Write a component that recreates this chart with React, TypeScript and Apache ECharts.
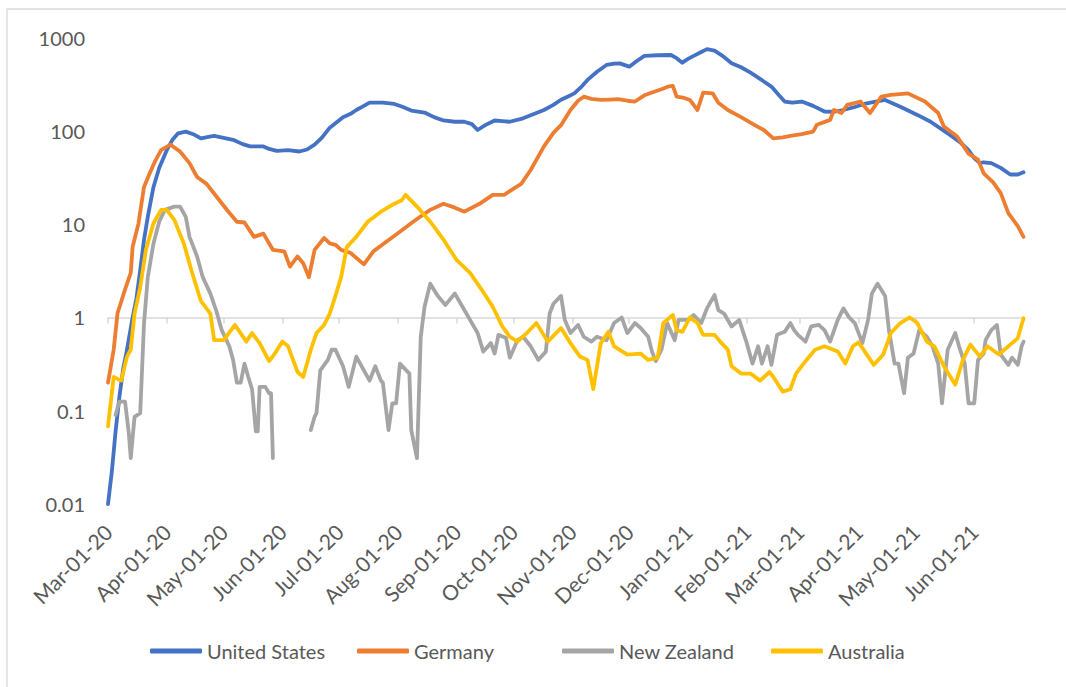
import React, { useEffect, useRef } from "react";
import * as echarts from "echarts";

// Day offsets from 2020-03-01, and values (log scale)
const unitedStates: [number, number][] = [
  [0, 0.01], [2, 0.022], [4, 0.06], [6, 0.14], [8, 0.28], [10, 0.45], [13, 1.0], [15, 1.6], [17, 3.2], [19, 6.8],
  [21, 12], [24, 25], [27, 40], [31, 62], [34, 80], [37, 94], [41, 98], [45, 92], [49, 83], [53, 86], [56, 88],
  [61, 84], [66, 80], [71, 72], [75, 68], [82, 68], [85, 64], [89, 61], [95, 62], [101, 60], [105, 63], [109, 71],
  [113, 85], [117, 108], [121, 125], [124, 140], [128, 152], [131, 167], [135, 185], [138, 200], [145, 200],
  [151, 194], [155, 182], [160, 165], [167, 157], [172, 140], [177, 129], [183, 125], [188, 125], [192, 118],
  [195, 102], [199, 115], [204, 129], [208, 127], [212, 125], [219, 136], [225, 152], [230, 167], [235, 190],
  [239, 215], [243, 235], [246, 252], [250, 300], [253, 351], [258, 430], [263, 508], [267, 525], [270, 528],
  [275, 487], [279, 560], [283, 635], [290, 645], [297, 649], [300, 600], [303, 537], [306, 590], [309, 635],
  [313, 700], [316, 750], [320, 724], [324, 640], [329, 531], [334, 480], [339, 421], [344, 360], [350, 298],
  [354, 240], [357, 206], [361, 200], [366, 206], [372, 185], [378, 161], [383, 160], [388, 167], [394, 180],
  [399, 194], [405, 205], [410, 214], [418, 181], [427, 148], [434, 125], [443, 94], [450, 74], [454, 62],
  [457, 51], [460, 45], [462, 46], [466, 45], [471, 40], [476, 34], [480, 34], [483, 36],
];

const germany: [number, number][] = [
  [0, 0.2], [3, 0.45], [5, 1.1], [9, 2.0], [12, 3.0], [13, 5.7], [16, 10], [19, 25], [22, 35], [25, 48], [28, 62],
  [33, 71], [38, 60], [43, 45], [47, 32], [52, 27], [57, 20], [63, 14], [68, 10.6], [72, 10.4], [77, 7.3], [82, 7.9],
  [87, 5.3], [93, 5.1], [96, 3.5], [100, 4.5], [103, 3.8], [106, 2.7], [109, 5.3], [114, 7.1], [117, 6.2],
  [120, 6.0], [123, 5.3], [128, 4.9], [135, 3.7], [140, 5.1], [147, 6.5], [154, 8.3], [161, 10.6], [166, 12.5],
  [170, 14.2], [177, 16.5], [183, 15], [188, 13.6], [196, 16.5], [203, 20.6], [209, 20.6], [214, 24], [218, 27],
  [223, 38], [230, 68], [235, 95], [239, 115], [244, 167], [248, 210], [251, 232], [255, 220], [260, 214],
  [265, 216], [269, 218], [274, 210], [278, 206], [283, 240], [287, 257], [292, 279], [296, 300], [298, 303],
  [300, 232], [304, 225], [307, 214], [311, 167], [314, 257], [319, 252], [322, 200], [327, 167], [334, 140],
  [341, 116], [346, 102], [351, 83], [356, 85], [360, 88], [366, 92], [372, 98], [374, 116], [381, 131],
  [383, 167], [387, 155], [390, 190], [397, 206], [402, 155], [408, 232], [413, 243], [422, 252], [431, 206],
  [438, 155], [441, 111], [448, 87], [454, 57], [459, 49], [462, 35], [467, 28], [471, 21.5], [475, 13.1],
  [480, 9.5], [483, 7.3],
];

const newZealand: [number, number | null][] = [
  [4, 0.09], [6, 0.125], [9, 0.125], [11, 0.057], [12, 0.031], [14, 0.086], [17, 0.094], [19, 0.87], [21, 2.7],
  [24, 6.2], [27, 10.6], [30, 14.2], [35, 15.4], [38, 15.4], [41, 12], [43, 7.3], [47, 4.5], [50, 2.7], [54, 1.8],
  [57, 1.2], [60, 0.73], [64, 0.49], [66, 0.35], [68, 0.2], [70, 0.2], [72, 0.32], [74, 0.23], [76, 0.17],
  [78, 0.06], [79, 0.06], [80, 0.18], [83, 0.18], [85, 0.154], [86, 0.154], [87, 0.031], [96, null],
  [107, 0.062], [109, 0.086], [110, 0.094], [112, 0.27], [116, 0.35], [118, 0.45], [120, 0.45], [124, 0.3],
  [127, 0.18], [131, 0.38], [135, 0.27], [138, 0.21], [141, 0.3], [144, 0.21], [145, 0.2], [148, 0.062],
  [150, 0.12], [152, 0.12], [154, 0.32], [159, 0.25], [160, 0.062], [163, 0.031], [165, 0.62], [167, 1.3],
  [170, 2.3], [174, 1.7], [178, 1.36], [183, 1.8], [188, 1.2], [191, 0.94], [195, 0.68], [198, 0.43], [202, 0.53],
  [204, 0.41], [206, 0.65], [210, 0.6], [212, 0.37], [216, 0.57], [219, 0.62], [223, 0.49], [227, 0.35],
  [231, 0.43], [233, 1.1], [235, 1.4], [239, 1.7], [241, 0.94], [244, 0.68], [248, 0.83], [251, 0.62],
  [255, 0.55], [258, 0.62], [263, 0.57], [267, 0.87], [271, 1.0], [274, 0.68], [278, 0.87], [281, 0.77],
  [285, 0.62], [287, 0.43], [289, 0.34], [292, 0.45], [295, 0.87], [299, 0.57], [301, 0.94], [306, 0.94],
  [309, 1.06], [313, 0.87], [316, 1.25], [320, 1.74], [322, 1.2], [325, 1.1], [329, 0.8], [333, 0.94],
  [337, 0.53], [340, 0.32], [343, 0.49], [345, 0.32], [348, 0.49], [350, 0.31], [353, 0.65], [357, 0.7],
  [360, 0.87], [362, 0.73], [364, 0.65], [368, 0.55], [371, 0.8], [375, 0.83], [378, 0.73], [381, 0.55],
  [385, 0.94], [388, 1.25], [391, 1.0], [394, 0.87], [398, 0.53], [401, 0.94], [403, 1.8], [406, 2.3],
  [410, 1.7], [412, 0.73], [415, 0.32], [417, 0.32], [420, 0.154], [422, 0.37], [425, 0.41], [428, 0.73],
  [432, 0.62], [435, 0.49], [438, 0.32], [440, 0.12], [443, 0.45], [447, 0.68], [449, 0.49], [452, 0.32],
  [454, 0.12], [457, 0.12], [459, 0.35], [462, 0.41], [463, 0.57], [466, 0.73], [469, 0.83], [471, 0.4],
  [475, 0.31], [477, 0.37], [480, 0.31], [482, 0.49], [483, 0.55],
];

const australia: [number, number][] = [
  [0, 0.068], [3, 0.23], [7, 0.21], [10, 0.38], [12, 0.45], [14, 1.1], [17, 2.1], [20, 5.3], [24, 10.2], [28, 14.2],
  [31, 14.2], [35, 11.1], [40, 6.2], [44, 3.2], [49, 1.5], [54, 1.1], [56, 0.57], [61, 0.57], [67, 0.83],
  [73, 0.55], [76, 0.68], [80, 0.53], [85, 0.34], [88, 0.41], [92, 0.55], [95, 0.49], [100, 0.26], [103, 0.23],
  [107, 0.45], [110, 0.68], [114, 0.83], [117, 1.1], [120, 1.7], [123, 2.7], [126, 5.7], [131, 7.3], [137, 10.6],
  [144, 13.6], [150, 16.1], [155, 18], [157, 20.6], [163, 15.4], [170, 10.6], [177, 6.8], [184, 4.1], [191, 3.0],
  [197, 2.0], [203, 1.3], [208, 0.8], [212, 0.62], [216, 0.55], [221, 0.68], [226, 0.87], [232, 0.55],
  [239, 0.77], [244, 0.53], [249, 0.38], [253, 0.35], [256, 0.17], [260, 0.53], [264, 0.7], [267, 0.49],
  [274, 0.4], [281, 0.41], [285, 0.35], [290, 0.37], [293, 0.87], [298, 1.06], [300, 0.73], [303, 0.7],
  [307, 1.0], [311, 0.87], [314, 0.65], [320, 0.65], [323, 0.55], [327, 0.45], [329, 0.3], [334, 0.25],
  [339, 0.25], [344, 0.21], [349, 0.26], [351, 0.23], [356, 0.16], [360, 0.17], [363, 0.25], [367, 0.32],
  [373, 0.45], [378, 0.49], [385, 0.43], [389, 0.32], [393, 0.49], [396, 0.54], [404, 0.31], [409, 0.4],
  [413, 0.68], [418, 0.87], [423, 1.0], [427, 0.87], [432, 0.55], [436, 0.49], [441, 0.3], [447, 0.19],
  [451, 0.35], [455, 0.51], [460, 0.38], [464, 0.49], [470, 0.4], [476, 0.51], [480, 0.6], [483, 0.98],
];

const seriesNames = ["United States", "Germany", "New Zealand", "Australia"];
const seriesColors = ["#4472C4", "#ED7D31", "#A5A5A5", "#FFC000"];
const monthNames = ["Jan", "Feb", "Mar", "Apr", "May", "Jun", "Jul", "Aug", "Sep", "Oct", "Nov", "Dec"];
const firstDay = 0;
const lastDay = 483;
const monthCount = 16;

const DAY = 86400000;
const baseTime = Date.UTC(2020, 2, 1);
const monthTickDays = Array.from({ length: monthCount }, (_, i) =>
  Math.round((Date.UTC(2020, 2 + i, 1) - baseTime) / DAY)
);

const fmtDay = (d: number) => {
  const dt = new Date(baseTime + Math.round(d) * DAY);
  const dd = String(dt.getUTCDate()).padStart(2, "0");
  const yy = String(dt.getUTCFullYear() % 100).padStart(2, "0");
  return `${monthNames[dt.getUTCMonth()]}-${dd}-${yy}`;
};

const FONT = "Lato, 'Open Sans', sans-serif";
const TEXT = "#595959";
const AXIS = "#D9D9D9";

export default function App() {
  const ref = useRef<HTMLDivElement>(null);
  useEffect(() => {
    if (!ref.current) return;
    const chart = echarts.init(ref.current, undefined, { renderer: "svg" });
    const all = [unitedStates, germany, newZealand, australia];
    const legendLefts = [150, 357, 562, 771];
    chart.setOption({
      animation: false,
      backgroundColor: "#fff",
      textStyle: { fontFamily: FONT },
      graphic: [
        {
          type: "rect",
          shape: { x: 7, y: 9, width: 1100, height: 700 },
          style: { fill: "none", stroke: AXIS, lineWidth: 1.3 },
          silent: true,
        },
      ],
      grid: [
        { left: 108, right: 42.5, top: 37.5, bottom: 183 },
        { left: 108, right: 42.5, top: 37.5, bottom: 369.5 },
      ],
      legend: seriesNames.map((n, i) => ({
        data: [n],
        left: legendLefts[i],
        top: 641,
        padding: 0,
        itemWidth: 52,
        itemHeight: 5,
        icon: "roundRect",
        textStyle: { fontSize: 20, color: TEXT, fontFamily: FONT },
        selectedMode: false,
      })),
      xAxis: [
        {
          type: "value",
          gridIndex: 0,
          min: firstDay,
          max: lastDay,
          axisLine: { show: false },
          axisTick: { show: false },
          splitLine: { show: false },
          axisLabel: {
            customValues: monthTickDays,
            rotate: 45,
            margin: 24,
            color: TEXT,
            fontSize: 21,
            fontFamily: FONT,
            formatter: (v: number) => fmtDay(v),
            hideOverlap: false,
            showMinLabel: true,
            showMaxLabel: true,
          },
        },
        {
          type: "value",
          gridIndex: 1,
          min: firstDay,
          max: lastDay,
          axisLine: { show: true, lineStyle: { color: AXIS, width: 1.5 } },
          axisTick: { show: true, customValues: monthTickDays, length: 6, lineStyle: { color: AXIS, width: 1.5 } },
          axisLabel: { show: false },
          splitLine: { show: false },
        },
      ],
      yAxis: [
        {
          type: "log",
          gridIndex: 0,
          logBase: 10,
          min: 0.01,
          max: 1000,
          axisLine: { show: false },
          axisTick: { show: false },
          splitLine: { show: false },
          axisLabel: {
            margin: 23,
            color: TEXT,
            fontSize: 20,
            fontFamily: FONT,
            formatter: (v: number) => String(Number(v.toPrecision(6))),
          },
        },
        { type: "value", gridIndex: 1, show: false, min: 0, max: 1 },
      ],
      series: all.map((data, i) => ({
        name: seriesNames[i],
        type: "line",
        xAxisIndex: 0,
        yAxisIndex: 0,
        showSymbol: false,
        symbol: "none",
        connectNulls: false,
        color: seriesColors[i],
        lineStyle: { width: 3.8, color: seriesColors[i], cap: "round", join: "round" },
        data: data.map(([d, v]) => [d, v]),
      })),
    });
    return () => chart.dispose();
  }, []);
  return (
    <div
      ref={ref}
      style={{ position: "fixed", left: 0, top: 0, width: 1066, height: 687 }}
    />
  );
}
